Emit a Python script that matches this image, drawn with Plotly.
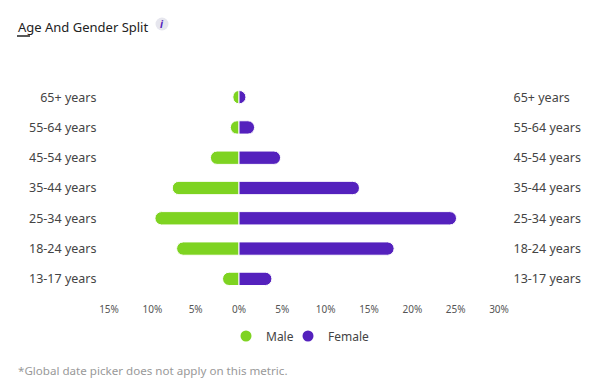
import plotly.graph_objects as go

# Data (top to bottom)
age_groups = ["65+ years", "55-64 years", "45-54 years", "35-44 years",
              "25-34 years", "18-24 years", "13-17 years"]
male_pct = [0.7, 1.0, 3.3, 7.7, 9.7, 7.2, 1.9]
female_pct = [0.8, 1.8, 4.8, 13.9, 25.1, 17.9, 3.8]
tick_vals = [-15, -10, -5, 0, 5, 10, 15, 20, 25, 30]
tick_text = ["15%", "10%", "5%", "0%", "5%", "10%", "15%", "20%", "25%", "30%"]

MALE_COLOR = "#7ED321"
FEMALE_COLOR = "#5421BD"
FONT = "Noto Sans"

OFF = 8  # page body margin
W, H = 607 - OFF, 385 - OFF
L, T = 109 - OFF, 82 - OFF
R = W - (499 - OFF)
B = H - (294 - OFF)
PW, PH = W - L - R, H - T - B


def px_x(p):
    return (p - OFF - L) / PW


def px_y(p):
    return (H - B - (p - OFF)) / PH


cat_order = age_groups[::-1]

fig = go.Figure()
fig.add_trace(go.Bar(
    y=age_groups, x=[-v for v in male_pct], orientation="h",
    marker=dict(color=MALE_COLOR, cornerradius=7,
                line=dict(color="white", width=1)),
    width=0.44, showlegend=False, name="Male", hoverinfo="skip"))
fig.add_trace(go.Bar(
    y=age_groups, x=female_pct, orientation="h",
    marker=dict(color=FEMALE_COLOR, cornerradius=7,
                line=dict(color="white", width=1)),
    width=0.44, showlegend=False, name="Female", hoverinfo="skip"))
# invisible trace for right-side labels
fig.add_trace(go.Scatter(
    y=age_groups, x=[0] * len(age_groups), yaxis="y2", mode="markers",
    marker=dict(opacity=0), showlegend=False, hoverinfo="skip"))
# legend entries
fig.add_trace(go.Scatter(x=[None], y=[None], mode="markers", name="Male",
                         legend="legend",
                         marker=dict(color=MALE_COLOR, size=11, symbol="circle")))
fig.add_trace(go.Scatter(x=[None], y=[None], mode="markers", name="Female",
                         legend="legend2",
                         marker=dict(color=FEMALE_COLOR, size=11, symbol="circle")))

leg_common = dict(orientation="h", xanchor="left", yanchor="middle",
                  y=px_y(336), font=dict(size=12, color="#444"),
                  bgcolor="rgba(0,0,0,0)")

fig.update_layout(
    width=W, height=H,
    margin=dict(l=L, r=R, t=T, b=B),
    paper_bgcolor="white", plot_bgcolor="white",
    barmode="relative",
    font=dict(family=FONT, color="#444"),
    xaxis=dict(range=[-15, 30], tickvals=tick_vals, ticktext=tick_text,
               showgrid=False, zeroline=False, showline=False,
               ticks="outside", ticklen=6, tickcolor="rgba(0,0,0,0)",
               tickfont=dict(size=10, color="#555")),
    yaxis=dict(type="category", categoryorder="array", categoryarray=cat_order,
               range=[-0.5, 6.5], showgrid=False, zeroline=False,
               ticks="outside", ticklen=9, tickcolor="rgba(0,0,0,0)",
               tickfont=dict(size=12.5, color="#444")),
    yaxis2=dict(type="category", categoryorder="array", categoryarray=cat_order,
                range=[-0.5, 6.5], overlaying="y", side="right",
                showgrid=False, zeroline=False,
                ticks="outside", ticklen=11, tickcolor="rgba(0,0,0,0)",
                tickfont=dict(size=12.5, color="#444")),
    legend=dict(x=px_x(226), **leg_common),
    legend2=dict(x=px_x(288), **leg_common),
    showlegend=True,
)

fig.add_annotation(text="Age And Gender Split", xref="paper", yref="paper",
                   x=px_x(16), y=px_y(27), xanchor="left", yanchor="middle",
                   showarrow=False, font=dict(size=13, color="#222", family=FONT))
fig.add_shape(type="line", xref="paper", yref="paper",
              x0=px_x(17), x1=px_x(30), y0=px_y(36), y1=px_y(36),
              line=dict(color="#222", width=1.5))
fig.add_shape(type="circle", xref="paper", yref="paper",
              x0=px_x(155.5), x1=px_x(168.5), y0=px_y(17.5), y1=px_y(30.5),
              fillcolor="#E6E6EE", line=dict(width=0))
fig.add_annotation(text="<b><i>i</i></b>", xref="paper", yref="paper",
                   x=px_x(162), y=px_y(24), xanchor="center", yanchor="middle",
                   showarrow=False, font=dict(size=10, color="#5421BD", family=FONT))
fig.add_annotation(text="*Global date picker does not apply on this metric.",
                   xref="paper", yref="paper", x=px_x(16), y=px_y(370),
                   xanchor="left", yanchor="middle", showarrow=False,
                   font=dict(size=11.6, color="#999", family=FONT))

fig.write_html("out.html")
